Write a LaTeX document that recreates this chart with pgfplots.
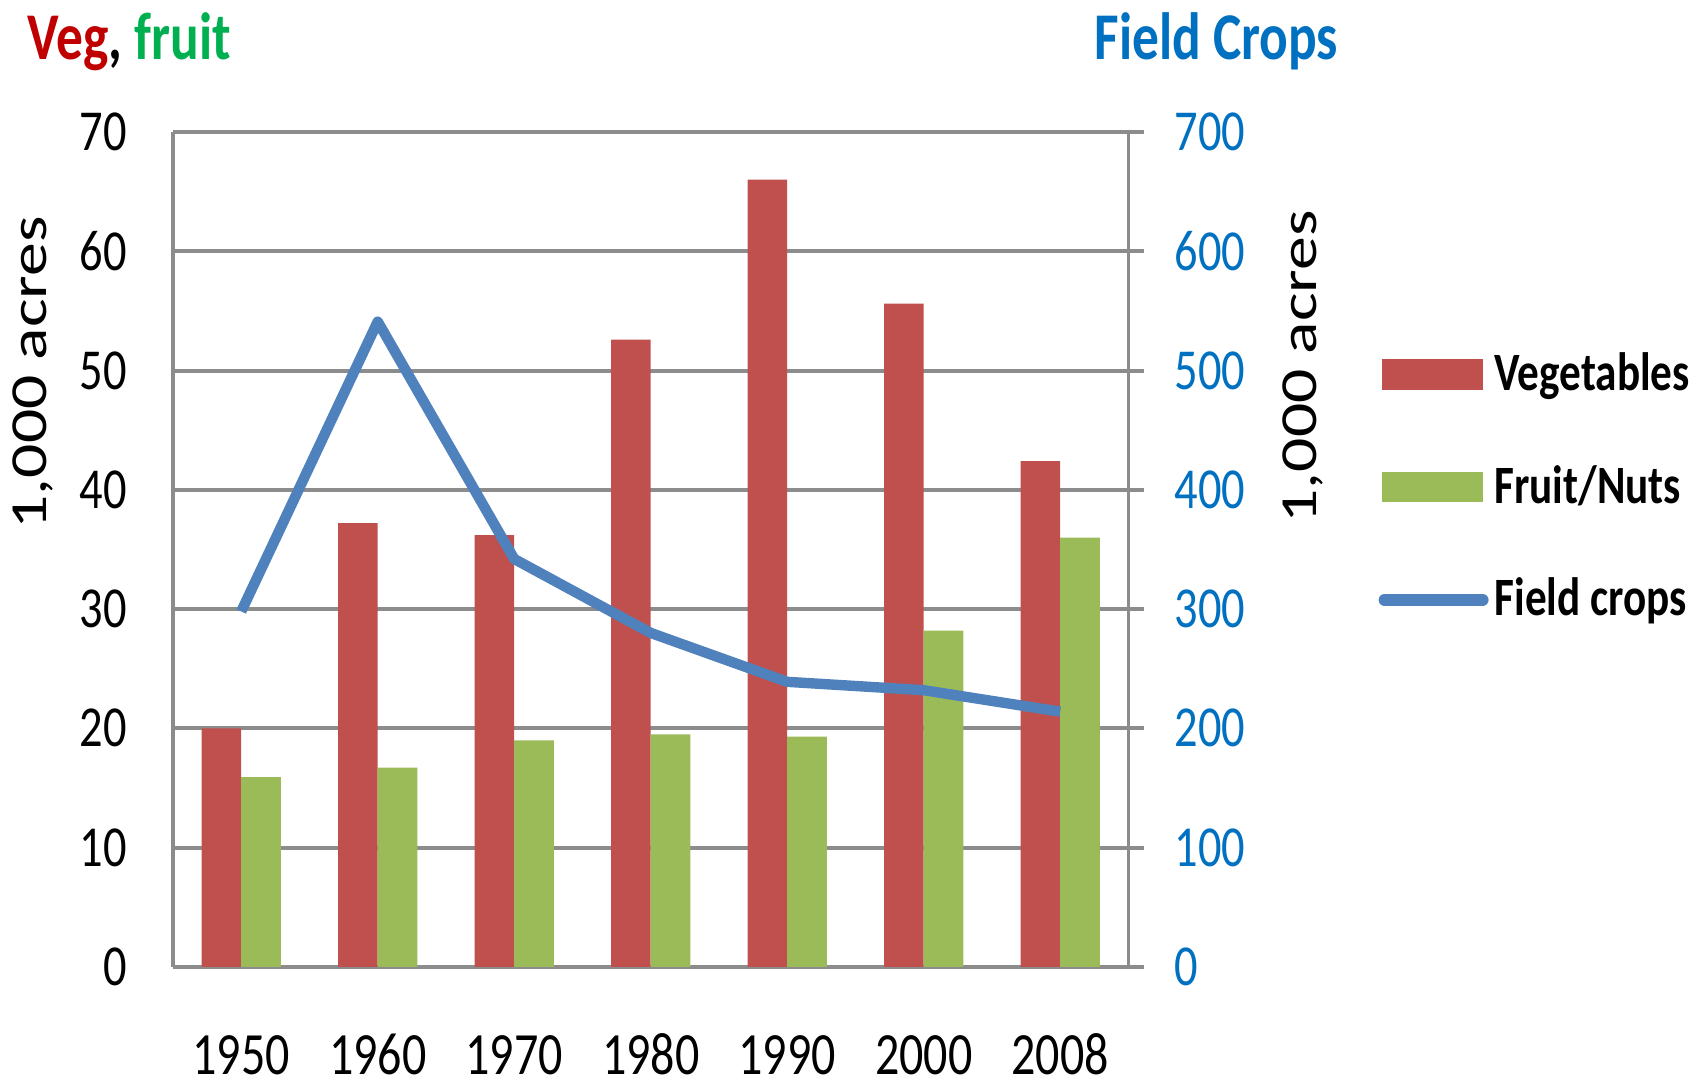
\documentclass[border=0pt]{standalone}
\usepackage{fontspec}
\setmainfont{Carlito}[FakeStretch=0.8]
\newfontfamily\rotfont{Carlito}[FakeStretch=1.3]
\usepackage{pgfplots}
\pgfplotsset{compat=1.18}
\usetikzlibrary{calc}
\definecolor{vegred}{HTML}{C0504D}
\definecolor{fruitgreen}{HTML}{9BBB59}
\definecolor{lineblue}{HTML}{4F81BD}
\definecolor{txtblue}{HTML}{0070C0}
\definecolor{txtred}{HTML}{C00000}
\definecolor{txtgreen}{HTML}{00B050}
\definecolor{gridgray}{HTML}{8C8C8C}
\begin{document}
\begin{tikzpicture}
\begin{axis}[name=ax, scale only axis, width=238.875pt, height=208.75pt,
  xmin=-0.5, xmax=6.5, ymin=0, ymax=70, ytick={0,10,...,70},
  xtick={0,...,6}, xticklabels={1950,1960,1970,1980,1990,2000,2008},
  axis y line*=left, axis x line*=bottom,
  axis line style={gridgray, line width=0.8pt},
  ymajorgrids, grid style={gridgray, line width=1pt},
  major tick length=0pt,
  /pgf/number format/assume math mode=true,
  yticklabel style={font=\fontsize{14.5}{16}\selectfont, xshift=-8pt},
  xticklabel style={font=\fontsize{15}{17}\selectfont, inner sep=0pt, anchor=base, yshift=-27pt},
  ybar=0pt, bar width=0.29,
]
\addplot[fill=vegred, draw=none] coordinates {(0,20) (1,37.2) (2,36.2) (3,52.6) (4,66.0) (5,55.6) (6,42.4)};
\addplot[fill=fruitgreen, draw=none] coordinates {(0,15.9) (1,16.7) (2,19.0) (3,19.5) (4,19.3) (5,28.2) (6,36.0)};
\end{axis}
\begin{axis}[scale only axis, width=238.875pt, height=208.75pt,
  xmin=-0.5, xmax=6.5, ymin=0, ymax=700, ytick={0,100,...,700},
  axis y line*=right, hide x axis,
  axis line style={gridgray, line width=0.8pt},
  major tick length=4pt, tick align=outside,
  ytick style={gridgray, line width=1pt},
  /pgf/number format/assume math mode=true,
  yticklabel style={font=\fontsize{14.5}{16}\selectfont, text=txtblue, xshift=4pt},
  legend style={at={(1.261,0.5745)}, anchor=west, draw=none, fill=none,
    font=\fontsize{13.5}{15}\selectfont\bfseries, row sep=14.2pt, inner sep=0pt,
    nodes={inner sep=1.5pt}},
  legend cell align=left,
]
\addlegendimage{legend image code/.code={\fill[vegred] (0pt,-3.6pt) rectangle (25pt,3.6pt);}}
\addlegendentry{Vegetables}
\addlegendimage{legend image code/.code={\fill[fruitgreen] (0pt,-3.6pt) rectangle (25pt,3.6pt);}}
\addlegendentry{Fruit/Nuts}
\addplot[lineblue, line width=2.6pt, line join=round,
  legend image code/.code={\draw[lineblue, line width=3pt, line cap=round] (0.5pt,0pt) -- (25pt,0pt);}]
  coordinates {(0,298) (1,541) (2,342) (3,280) (4,239) (5,232) (6,214)};
\addlegendentry{Field crops}
\end{axis}
\node[anchor=base west, inner sep=0pt, font=\fontsize{16.7}{18}\selectfont\bfseries]
  at ($(ax.south west)+(-36.5pt,226.75pt)$) {\textcolor{txtred}{Veg}, \textcolor{txtgreen}{fruit}};
\node[anchor=base west, inner sep=0pt, font=\fontsize{16.7}{18}\selectfont\bfseries, text=txtblue]
  at ($(ax.south west)+(230.25pt,226.75pt)$) {Field Crops};
\node[rotate=90, inner sep=0pt, font=\rotfont\fontsize{13}{15}\selectfont]
  at ($(ax.south west)+(-35pt,148.5pt)$) {1,000 acres};
\node[rotate=90, inner sep=0pt, font=\rotfont\fontsize{13}{15}\selectfont]
  at ($(ax.south west)+(282.5pt,150pt)$) {1,000 acres};
\useasboundingbox ($(ax.south west)+(-43.25pt,-31pt)$) rectangle ($(ax.north east)+(142.4pt,33pt)$);
\end{tikzpicture}
\end{document}
